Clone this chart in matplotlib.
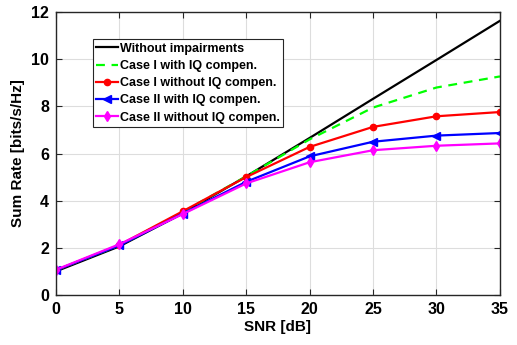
import matplotlib.pyplot as plt

plt.rcParams['font.family'] = ['Liberation Sans', 'DejaVu Sans']
plt.rcParams['font.weight'] = 'bold'

snr = [0, 5, 10, 15, 20, 25, 30, 35]
no_impair = [1.0, 2.06, 3.46, 5.03, 6.66, 8.32, 9.97, 11.63]
case1_comp = [1.05, 2.1, 3.52, 5.03, 6.6, 7.95, 8.8, 9.27]
case1_nocomp = [1.05, 2.12, 3.55, 5.0, 6.28, 7.13, 7.58, 7.76]
case2_comp = [1.05, 2.1, 3.45, 4.8, 5.88, 6.5, 6.76, 6.87]
case2_nocomp = [1.07, 2.15, 3.43, 4.73, 5.63, 6.14, 6.33, 6.43]

fig = plt.figure(figsize=(5.17, 3.45), dpi=100)
ax = fig.add_axes([0.108, 0.145, 0.859, 0.82])

ax.plot(snr, no_impair, color='black', lw=1.6, label='Without impairments')
ax.plot(snr, case1_comp, color='#00ff00', lw=1.6, ls=(0, (4, 3)),
        label='Case I with IQ compen.')
ax.plot(snr, case1_nocomp, color='red', lw=1.6, marker='o', ms=4.5,
        label='Case I without IQ compen.')
ax.plot(snr, case2_comp, color='blue', lw=1.6, marker='<', ms=5.5,
        label='Case II with IQ compen.')
ax.plot(snr, case2_nocomp, color='magenta', lw=1.6, marker='d', ms=5.5,
        label='Case II without IQ compen.')

ax.set_xlim(0, 35)
ax.set_ylim(0, 12)
ax.set_xticks(range(0, 36, 5))
ax.set_yticks(range(0, 13, 2))
ax.grid(True, color='#dddddd', lw=0.8)
ax.set_axisbelow(True)
ax.tick_params(direction='in', top=True, right=True, labelsize=11.5, length=4,
               color='#262626', pad=5)
for s in ax.spines.values():
    s.set_color('#262626')
    s.set_linewidth(1.0)
ax.set_xlabel('SNR [dB]', fontsize=11, fontweight='bold', labelpad=2)
ax.set_ylabel('Sum Rate [bits/s/Hz]', fontsize=11, fontweight='bold')

leg = ax.legend(loc='upper left', bbox_to_anchor=(0.083, 0.905), fontsize=9,
                fancybox=False, edgecolor='#262626', framealpha=1,
                handlelength=1.7, handletextpad=0.15, borderpad=0.3,
                labelspacing=0.42, borderaxespad=0)
leg.get_frame().set_linewidth(0.8)
for t in leg.get_texts():
    t.set_fontweight('bold')

fig.savefig('out.png', dpi=100)
